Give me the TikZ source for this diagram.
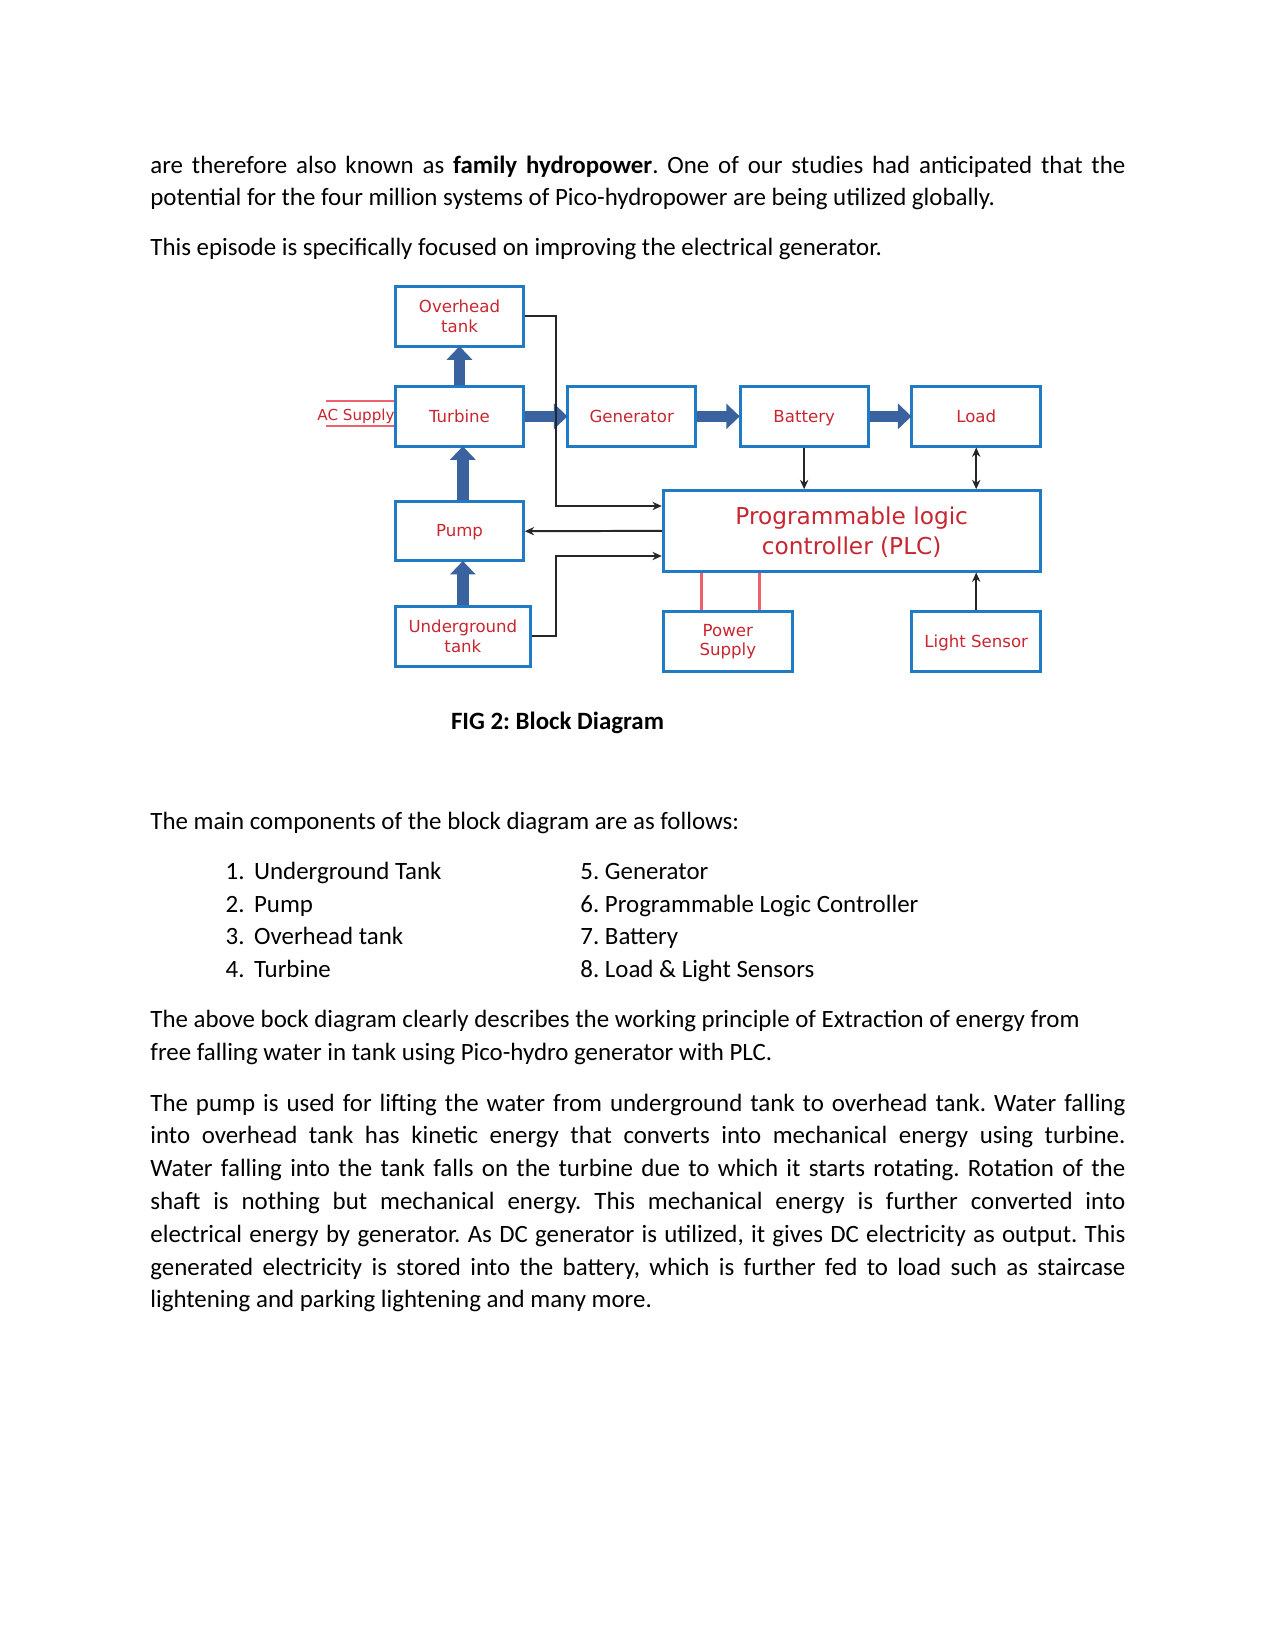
\documentclass[tikz,border=0pt]{standalone}
\usepackage{fontspec}
\setmainfont{Carlito}
\newfontfamily\dfont{DejaVu Sans}
\usetikzlibrary{arrows.meta,fit}
\definecolor{boxblue}{RGB}{32,122,196}
\definecolor{arrblue}{RGB}{58,98,158}
\definecolor{lblred}{RGB}{200,38,48}
\definecolor{pwrred}{RGB}{238,96,108}
\frenchspacing
\begin{document}
\begin{tikzpicture}[x=0.48181pt,y=-0.48181pt,
  txt/.style={anchor=base west,inner sep=0pt,font=\fontsize{12}{14}\selectfont},
  blk/.style={draw=boxblue,line width=1.45pt,inner sep=0pt},
  lbl/.style={inner sep=0pt,align=center,text=lblred,font=\dfont\fontsize{8}{9.6}\selectfont},
  one/.style={text height=5.84pt,text depth=0pt},
  tarr/.style={draw=arrblue,line width=5.5pt,-{Triangle[length=6.5pt,width=12pt]},shorten >=-0.6pt},
  conn/.style={draw=black!85,line width=0.95pt,-{Stealth[length=4.5pt,width=4pt]}},
  acl/.style={draw=pwrred,line width=0.5pt},
  pwr/.style={draw=pwrred,line width=1.2pt}]
\useasboundingbox (0,0) rectangle (1275,1651);
\fill[white] (0,0) rectangle (1275,1651);

% body text
\node[txt] (t1) at (150,173) {\makebox[6.5in][s]{are therefore also known as \textbf{family hydropower}. One of our studies had anticipated that the}};
\node[txt] (t2) at (150,205.5) {potential for the four million systems of Pico-hydropower are being utilized globally.};
\node[txt] (t3) at (150,255) {This episode is specifically focused on improving the electrical generator.};
\node[txt] (cap) at (450.6,729.5) {\textbf{FIG 2: Block Diagram}};
\node[txt] (t4) at (150,829.5) {The main components of the block diagram are as follows:};
\node[txt] (n1) at (225.3,879.5) {1.};
\node[txt] (i1) at (253.7,879.5) {Underground Tank};
\node[txt] (n2) at (225.3,912) {2.};
\node[txt] (i2) at (253.7,912) {Pump};
\node[txt] (n3) at (225.3,944.5) {3.};
\node[txt] (i3) at (253.7,944.5) {Overhead tank};
\node[txt] (n4) at (225.3,977) {4.};
\node[txt] (i4) at (253.7,977) {Turbine};
\node[txt] (i5) at (580,879.5) {5. Generator};
\node[txt] (i6) at (580,912) {6. Programmable Logic Controller};
\node[txt] (i7) at (580,944.5) {7. Battery};
\node[txt] (i8) at (580,977) {8. Load \& Light Sensors};
\node[txt] (t5) at (150,1027.5) {The above bock diagram clearly describes the working principle of Extraction of energy from};
\node[txt] (t6) at (150,1060.5) {free falling water in tank using Pico-hydro generator with PLC.};
\node[txt] (p1) at (150,1111) {\makebox[6.5in][s]{The pump is used for lifting the water from underground tank to overhead tank. Water falling}};
\node[txt] (p2) at (150,1143.5) {\makebox[6.5in][s]{into overhead tank has kinetic energy that converts into mechanical energy using turbine.}};
\node[txt] (p3) at (150,1176) {\makebox[6.5in][s]{Water falling into the tank falls on the turbine due to which it starts rotating. Rotation of the}};
\node[txt] (p4) at (150,1209.5) {\makebox[6.5in][s]{shaft is nothing but mechanical energy. This mechanical energy is further converted into}};
\node[txt] (p5) at (150,1242.5) {\makebox[6.5in][s]{electrical energy by generator. As DC generator is utilized, it gives DC electricity as output. This}};
\node[txt] (p6) at (150,1275) {\makebox[6.5in][s]{generated electricity is stored into the battery, which is further fed to load such as staircase}};
\node[txt] (p7) at (150,1307.5) {lightening and parking lightening and many more.};

% diagram boxes
\node[blk, fit={(395.7,286) (523.3,346)}] (ot) {};
\node[blk, fit={(395.7,386.7) (523.3,446)}] (tu) {};
\node[blk, fit={(567.7,386.7) (695.7,446)}] (ge) {};
\node[blk, fit={(740,386.7) (868.3,446)}] (ba) {};
\node[blk, fit={(911.7,386.7) (1040.7,446)}] (lo) {};
\node[blk, fit={(395.7,501.7) (523.3,560.7)}] (pu) {};
\node[blk, fit={(395.7,606) (530,666)}] (ug) {};
\node[blk, fit={(663.3,490.7) (1040.3,571)}] (plc) {};
\node[blk, fit={(663.3,611) (792.3,671)}] (ps) {};
\node[blk, fit={(911.7,611) (1040.7,671)}] (ls) {};

% labels
\node[lbl] (otl) at (459.5,316.7) {Overhead\\tank};
\node[lbl,one] (tul) at (459.5,416.5) {Turbine};
\node[lbl,one] (gel) at (631.7,416.5) {Generator};
\node[lbl,one] (bal) at (804.2,416.5) {Battery};
\node[lbl,one] (lol) at (976.2,416.5) {Load};
\node[lbl,one] (pul) at (459.5,530.8) {Pump};
\node[lbl] (ugl) at (462.9,636) {Underground\\tank};
\node[lbl,font=\dfont\fontsize{11.2}{14}\selectfont] (plcl) at (851.7,532.2) {Programmable logic\\controller (PLC)};
\node[lbl] (psl) at (727.8,641.7) {Power\\Supply};
\node[lbl,one] (lsl) at (976.2,641.2) {Light Sensor};

% AC supply
\coordinate (ac1) at (326,401);
\coordinate (ac2) at (326,426);
\draw[acl] (ac1) -- (ac1 -| tu.west);
\draw[acl] (ac2) -- (ac2 -| tu.west);
\node[lbl,text height=5.33pt,text depth=0pt,font=\dfont\fontsize{7.3}{8}\selectfont] (acs) at (356,414.8) {AC Supply};

% thick arrows
\draw[tarr] (tu.north) -- (ot.south);
\draw[tarr] ([xshift=1.6pt]pu.north) -- ([xshift=1.6pt]tu.south);
\draw[tarr] (ug.north) -- (ug.north |- pu.south);
\draw[tarr] (tu.east) -- (ge.west);
\draw[tarr] (ge.east) -- (ba.west);
\draw[tarr] (ba.east) -- (lo.west);

% black connectors
\coordinate (j1) at (556,506);
\coordinate (j2) at (556,556);
\draw[conn] (ot.east) -| (j1) -- (j1 -| plc.west);
\draw[conn] (plc.west) -- (pu.east);
\draw[conn] (ug.east) -| (j2) -- (j2 -| plc.west);
\draw[conn] (ba.south) -- (ba.south |- plc.north);
\draw[conn,{Stealth[length=4.5pt,width=4pt]}-{Stealth[length=4.5pt,width=4pt]}] (lo.south) -- (lo.south |- plc.north);
\draw[conn] (ls.north) -- (ls.north |- plc.south);

% power supply lines
\draw[pwr] ([xshift=-12.6pt]ps.north) -- ([xshift=-12.6pt]ps.north |- plc.south);
\draw[pwr] ([xshift=15.2pt]ps.north) -- ([xshift=15.2pt]ps.north |- plc.south);
\end{tikzpicture}
\end{document}
